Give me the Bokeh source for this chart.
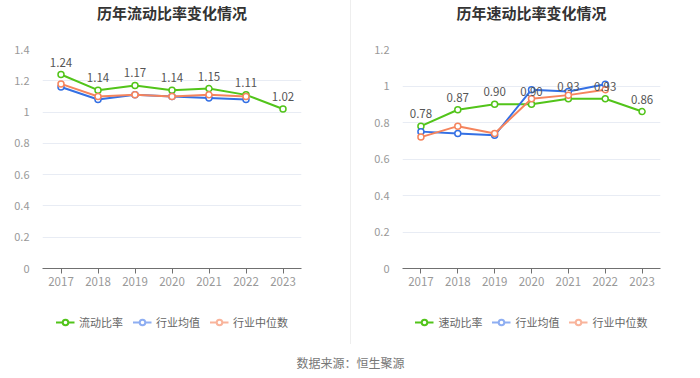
from bokeh.plotting import figure
from bokeh.models import (ColumnDataSource, FactorRange, LabelSet, Legend, LegendItem,
                          NumeralTickFormatter, FixedTicker, Label, Spacer)
from bokeh.core.properties import value
from bokeh.layouts import column, row
from bokeh.embed import file_html
from bokeh.resources import INLINE

years = ["2017", "2018", "2019", "2020", "2021", "2022", "2023"]
ind_years = ["2017", "2018", "2019", "2020", "2021", "2022"]

current_ratio = [1.24, 1.14, 1.17, 1.14, 1.15, 1.11, 1.02]
current_mean = [1.16, 1.08, 1.11, 1.10, 1.09, 1.08]
current_median = [1.18, 1.10, 1.11, 1.10, 1.11, 1.10]

quick_ratio = [0.78, 0.87, 0.90, 0.90, 0.93, 0.93, 0.86]
quick_mean = [0.75, 0.74, 0.73, 0.98, 0.97, 1.01]
quick_median = [0.72, 0.78, 0.74, 0.93, 0.95, 0.98]

left_ticks = [0, 0.2, 0.4, 0.6, 0.8, 1.0, 1.2, 1.4]
right_ticks = [0, 0.2, 0.4, 0.6, 0.8, 1.0, 1.2]

GREEN = "#52c41a"
BLUE = "#3470e4"
ORANGE = "#f5845d"
BLUE_L = "#8eaef2"
ORANGE_L = "#f9b49b"
FONT = "Noto Sans CJK SC"


def blank(width, height, bl, br):
    q = figure(x_range=(0, 1), y_range=(0, 1), width=width, height=height,
               output_backend="svg", toolbar_location=None,
               min_border_left=bl, min_border_right=br, min_border_top=0,
               min_border_bottom=0)
    q.axis.visible = False
    q.grid.visible = False
    q.outline_line_color = None
    return q


def make_title(text, width, bl, br):
    t = blank(width, 24, bl, br)
    t.add_layout(Label(x=0.5, y=0.5, text=text, text_align="center",
                       text_baseline="middle", text_font=FONT, text_font_size="15px",
                       text_font_style="bold", text_color="#333333"))
    return t


def make_chart(main, mean, median, ticks, width, bl, br):
    p = figure(x_range=FactorRange(*years), y_range=(ticks[0], ticks[-1]),
               width=width, height=276, output_backend="svg", toolbar_location=None,
               min_border_left=bl, min_border_right=br, min_border_top=25,
               min_border_bottom=32)
    p.outline_line_color = None

    p.xgrid.grid_line_color = None
    p.ygrid.grid_line_color = "#e8ecf4"
    p.yaxis.ticker = FixedTicker(ticks=ticks)
    p.yaxis.formatter = NumeralTickFormatter(format="0.[0]")
    p.yaxis.axis_line_color = None
    p.yaxis.major_tick_line_color = None
    p.yaxis.minor_tick_line_color = None
    p.yaxis.major_label_text_color = "#999999"
    p.yaxis.major_label_text_font_size = "11px"
    p.yaxis.major_label_text_font = FONT
    p.yaxis.major_label_standoff = 7

    p.xaxis.axis_line_color = "#707070"
    p.xaxis.major_tick_line_color = "#707070"
    p.xaxis.major_tick_out = 5
    p.xaxis.major_tick_in = 0
    p.xaxis.major_label_text_color = "#999999"
    p.xaxis.major_label_text_font_size = "11.5px"
    p.xaxis.major_label_text_font = FONT
    p.xaxis.major_label_standoff = 3

    src_main = ColumnDataSource(dict(x=years, y=main, t=[f"{v:.2f}" for v in main]))
    src_mean = ColumnDataSource(dict(x=ind_years, y=mean))
    src_med = ColumnDataSource(dict(x=ind_years, y=median))

    for src, col in ((src_main, GREEN), (src_mean, BLUE), (src_med, ORANGE)):
        p.line("x", "y", source=src, line_color=col, line_width=2)
        p.scatter("x", "y", source=src, size=6, marker="circle", line_color=col,
                  fill_color="white", line_width=1.5)

    p.add_layout(LabelSet(x="x", y="y", text="t", source=src_main, y_offset=8,
                          text_align="center", text_baseline="bottom",
                          text_font_size=value("11.5px"), text_color="#555555",
                          text_font=value(FONT)))
    return p


def make_legend(name, width, bl, br):
    q = blank(width, 44, bl, br)
    items = []
    for lab, col in ((name, GREEN), ("行业均值", BLUE_L), ("行业中位数", ORANGE_L)):
        off = ColumnDataSource(dict(x=[-10, -9], y=[-10, -10]))
        lr = q.line("x", "y", source=off, line_color=col, line_width=2)
        sr = q.scatter("x", "y", source=off, size=9, marker="circle", line_color=col,
                       fill_color="white", line_width=2)
        items.append(LegendItem(label=lab, renderers=[lr, sr]))
    leg = Legend(items=items, orientation="horizontal", location="center",
                 border_line_color=None, background_fill_alpha=0,
                 label_text_font_size="11px", label_text_color="#666666",
                 label_text_font=FONT, glyph_width=19, glyph_height=14,
                 label_height=14, label_standoff=5, spacing=9, padding=0, margin=0)
    q.add_layout(leg, "center")
    return q


left = column(make_title("历年流动比率变化情况", 350, 42, 49),
              make_chart(current_ratio, current_mean, current_median, left_ticks, 350, 42, 49),
              make_legend("流动比率", 350, 42, 49))
right = column(make_title("历年速动比率变化情况", 349, 51, 40),
               make_chart(quick_ratio, quick_mean, quick_median, right_ticks, 349, 51, 40),
               make_legend("速动比率", 349, 51, 40))
divider = Spacer(width=1, height=344, styles={"background-color": "#eeeeee"})

src_fig = blank(700, 34, 0, 0)
src_fig.add_layout(Label(x=0.5, y=0.47, text="数据来源：恒生聚源", text_align="center",
                         text_baseline="middle", text_font_size="12px",
                         text_color="#777777", text_font=FONT))

layout = column(row(left, divider, right), src_fig)
open("out.html", "w").write(file_html(layout, INLINE))
